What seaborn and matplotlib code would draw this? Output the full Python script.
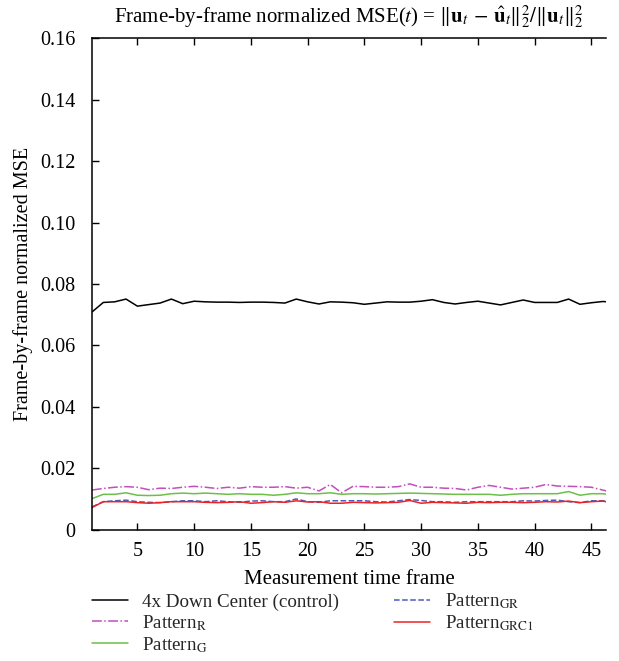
import numpy as np
import pandas as pd
import seaborn as sns
import matplotlib
matplotlib.use("Agg")
import matplotlib.pyplot as plt

# Frame-by-frame normalized MSE for each sampling pattern
frames = list(range(1, 48))

down_center = [0.0709, 0.0740, 0.0742, 0.0751, 0.0728, 0.0733, 0.0738, 0.0751, 0.0736, 0.0744,
               0.0742, 0.0741, 0.0741, 0.0740, 0.0741, 0.0741, 0.0740, 0.0738, 0.0751, 0.0742,
               0.0735, 0.0742, 0.0741, 0.0739, 0.0734, 0.0738, 0.0742, 0.0741, 0.0741, 0.0744,
               0.0749, 0.0740, 0.0735, 0.0740, 0.0744, 0.0738, 0.0732, 0.0740, 0.0748, 0.0740,
               0.0740, 0.0740, 0.0751, 0.0734, 0.0739, 0.0743, 0.0741]

pattern_r = [0.0130, 0.0135, 0.0139, 0.0141, 0.0139, 0.0131, 0.0136, 0.0135, 0.0139, 0.0142,
             0.0139, 0.0135, 0.0139, 0.0136, 0.0141, 0.0139, 0.0139, 0.0141, 0.0136, 0.0139,
             0.0127, 0.0148, 0.0121, 0.0142, 0.0141, 0.0139, 0.0139, 0.0141, 0.0150, 0.0139,
             0.0139, 0.0136, 0.0135, 0.0130, 0.0139, 0.0145, 0.0139, 0.0133, 0.0136, 0.0139,
             0.0148, 0.0143, 0.0142, 0.0141, 0.0139, 0.0130, 0.0121]

pattern_g = [0.0102, 0.0116, 0.0116, 0.0121, 0.0113, 0.0112, 0.0113, 0.0118, 0.0120, 0.0118,
             0.0120, 0.0118, 0.0116, 0.0118, 0.0116, 0.0116, 0.0113, 0.0116, 0.0121, 0.0118,
             0.0118, 0.0121, 0.0116, 0.0118, 0.0118, 0.0117, 0.0118, 0.0119, 0.0120, 0.0119,
             0.0118, 0.0117, 0.0116, 0.0116, 0.0116, 0.0116, 0.0113, 0.0116, 0.0118, 0.0118,
             0.0118, 0.0118, 0.0125, 0.0113, 0.0118, 0.0118, 0.0113]

pattern_gr = [0.0075, 0.0092, 0.0095, 0.0097, 0.0092, 0.0090, 0.0089, 0.0092, 0.0095, 0.0095,
              0.0092, 0.0095, 0.0092, 0.0090, 0.0094, 0.0095, 0.0092, 0.0092, 0.0101, 0.0092,
              0.0090, 0.0095, 0.0095, 0.0095, 0.0095, 0.0092, 0.0091, 0.0095, 0.0099, 0.0096,
              0.0092, 0.0092, 0.0090, 0.0092, 0.0092, 0.0092, 0.0092, 0.0092, 0.0095, 0.0094,
              0.0096, 0.0097, 0.0092, 0.0089, 0.0095, 0.0095, 0.0092]

pattern_grc1 = [0.0073, 0.0092, 0.0092, 0.0092, 0.0089, 0.0087, 0.0089, 0.0092, 0.0092, 0.0092,
                0.0090, 0.0089, 0.0090, 0.0092, 0.0087, 0.0089, 0.0092, 0.0090, 0.0095, 0.0091,
                0.0092, 0.0087, 0.0087, 0.0090, 0.0089, 0.0088, 0.0089, 0.0090, 0.0096, 0.0087,
                0.0090, 0.0089, 0.0088, 0.0087, 0.0090, 0.0089, 0.0090, 0.0090, 0.0089, 0.0090,
                0.0092, 0.0091, 0.0094, 0.0089, 0.0092, 0.0094, 0.0087]

series_labels = ["4x Down Center (control)", r"Pattern$_{\mathrm{R}}$", r"Pattern$_{\mathrm{G}}$",
                 r"Pattern$_{\mathrm{GR}}$", r"Pattern$_{\mathrm{GRC1}}$"]
x_ticks = [5, 10, 15, 20, 25, 30, 35, 40, 45]
y_ticks = [0, 0.02, 0.04, 0.06, 0.08, 0.10, 0.12, 0.14, 0.16]
y_tick_labels = ["0", "0.02", "0.04", "0.06", "0.08", "0.10", "0.12", "0.14", "0.16"]

sns.set_theme(style="white")
plt.rcParams["font.family"] = ["Liberation Serif", "DejaVu Serif"]
plt.rcParams["mathtext.fontset"] = "stix"

fig = plt.figure(figsize=(6.19, 6.61), dpi=100)
ax = fig.add_axes([0.1486, 0.1982, 0.8305, 0.7443])

styles = [
    dict(color="black", linestyle="-", linewidth=1.1),
    dict(color="#c44dbf", linestyle="-.", linewidth=1.1),
    dict(color="#6cbf4a", linestyle="-", linewidth=1.1),
    dict(color="#4a5cc0", linestyle="--", linewidth=1.1),
    dict(color="#ee2222", linestyle="-", linewidth=1.1),
]
all_series = [down_center, pattern_r, pattern_g, pattern_gr, pattern_grc1]

for vals, lab, st in zip(all_series, series_labels, styles):
    df = pd.DataFrame({"frame": frames, "mse": vals})
    sns.lineplot(data=df, x="frame", y="mse", ax=ax, label=lab, **st)

ax.set_xlim(1, 46.3)
ax.set_ylim(0, 0.16)
ax.set_xticks(x_ticks)
ax.set_yticks(y_ticks)
ax.set_yticklabels(y_tick_labels)
ax.tick_params(axis="both", which="both", direction="in", length=5, width=1,
               labelsize=14.5, colors="black", top=True, bottom=True, left=True, right=False)
ax.tick_params(axis="y", pad=12)
ax.tick_params(axis="x", pad=9)
for side in ["left", "bottom", "top"]:
    ax.spines[side].set_visible(True)
    ax.spines[side].set_color("black")
    ax.spines[side].set_linewidth(1.1)
ax.spines["right"].set_visible(False)

ax.set_xlabel("Measurement time frame", fontsize=15, color="black", labelpad=6)
ax.set_ylabel("Frame-by-frame normalized MSE", fontsize=14.5, color="black", labelpad=5)
ax.set_title(r"Frame-by-frame normalized MSE($t$) = $\Vert\mathbf{u}_t\, -\, \hat{\mathbf{u}}_t\Vert_2^2/\Vert\mathbf{u}_t\Vert_2^2$",
             fontsize=15, color="black", pad=11)

handles, labels = ax.get_legend_handles_labels()
ax.get_legend().remove()
fig.legend(handles, labels, ncol=2, loc="upper left", bbox_to_anchor=(0.148, 0.105),
           frameon=False, fontsize=13.7, handlelength=1.9, handletextpad=0.75,
           columnspacing=2.9, labelspacing=0.12, borderaxespad=0, borderpad=0)

fig.savefig("out.png", dpi=100)
